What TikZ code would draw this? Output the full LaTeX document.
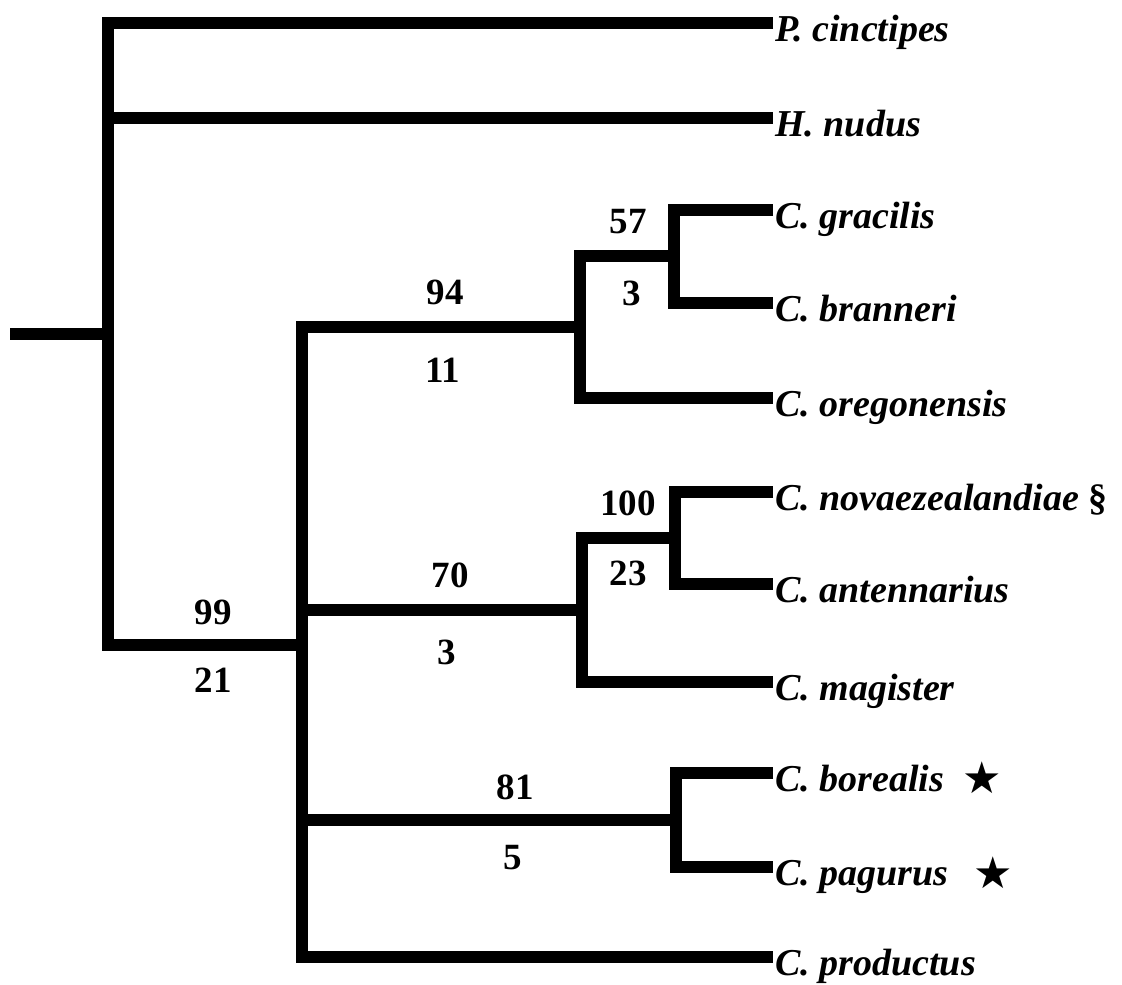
\documentclass[tikz,border=0pt]{standalone}
\usepackage{fontspec}
\setmainfont{Liberation Serif}
\newfontfamily\symfont{DejaVu Sans}
\begin{document}
\begin{tikzpicture}[x=1pt, y=-1pt,
  branch/.style={line width=12.5pt, line join=miter, line cap=butt},
  leaf/.style={anchor=west, inner xsep=2pt, inner ysep=0pt, text height=36pt, text depth=0pt,
    font=\fontsize{38}{40}\selectfont\bfseries\itshape},
  supp/.style={inner sep=0pt, font=\fontsize{37}{40}\selectfont\bfseries},
  starmark/.style={inner sep=0pt, font=\symfont\fontsize{44}{48}\selectfont}]
\useasboundingbox (0,0) rectangle (1122,985);
% leaves
\node[leaf] (P)   at (773,23)  {P. cinctipes};
\node[leaf] (H)   at (773,118) {H. nudus};
\node[leaf] (gra) at (773,210) {C. gracilis};
\node[leaf] (bra) at (773,303) {C. branneri};
\node[leaf] (ore) at (773,398) {C. oregonensis};
\node[leaf] (nov) at (773,492) {C. novaezealandiae {\upshape §}};
\node[leaf] (ant) at (773,584) {C. antennarius};
\node[leaf] (mag) at (773,682) {C. magister};
\node[leaf] (bor) at (773,773) {C. borealis};
\node[leaf] (pag) at (773,867) {C. pagurus};
\node[leaf] (pro) at (773,957) {C. productus};
\node[starmark] (starB) at (982,778) {★};
\node[starmark] (starP) at (993,873) {★};
% internal nodes
\coordinate (base) at (10,334);
\coordinate (root) at (108,334);
\coordinate (n99) at (302,645);
\coordinate (n94) at (580,327);
\coordinate (n57) at (674,256);
\coordinate (n70) at (582,610);
\coordinate (n100) at (675,538);
\coordinate (n81) at (676,820);
% branches
\draw[branch] (base) -- (root);
\draw[branch] (P.west) -| (root) |- (n99);
\draw[branch] (root) |- (H.west);
\draw[branch] (n94) -| (n99) |- (pro.west);
\draw[branch] (n99) |- (n70);
\draw[branch] (n99) |- (n81);
\draw[branch] (n57) -| (n94) |- (ore.west);
\draw[branch] (gra.west) -| (n57) |- (bra.west);
\draw[branch] (n100) -| (n70) |- (mag.west);
\draw[branch] (nov.west) -| (n100) |- (ant.west);
\draw[branch] (bor.west) -| (n81) |- (pag.west);
% support values
\node[supp] (s99a) at (213,612) {99};
\node[supp] (s99b) at (213,680) {21};
\node[supp] (s94a) at (445,292) {94};
\node[supp] (s94b) at (443,370) {11};
\node[supp] (s57a) at (628,222) {57};
\node[supp] (s57b) at (632,293) {3};
\node[supp] (s100a) at (628,503) {100};
\node[supp] (s100b) at (628,573) {23};
\node[supp] (s70a) at (450,575) {70};
\node[supp] (s70b) at (447,652) {3};
\node[supp] (s81a) at (515,787) {81};
\node[supp] (s81b) at (513,858) {5};
\end{tikzpicture}
\end{document}
